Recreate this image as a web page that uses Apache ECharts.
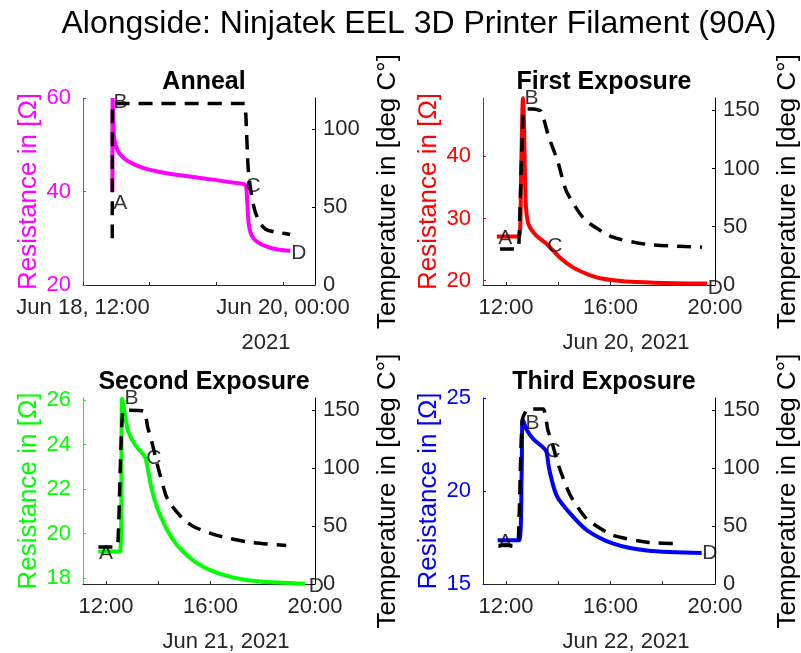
<!DOCTYPE html>
<html>
<head>
<meta charset="utf-8">
<script src="https://cdn.jsdelivr.net/npm/echarts@6.0.0/dist/echarts.min.js"></script>
<style>
  html, body { margin: 0; padding: 0; background: #fff; }
  #chart { width: 801px; height: 653px; }
</style>
</head>
<body>
<div id="chart"></div>
<script>
// x values are hours after midnight of the day (anneal: hours after Jun 18 00:00)

// Anneal
const annealResHours = [17.3, 17.33, 17.45, 17.6, 18.0, 18.7, 20.2, 22.9, 27.1, 33.1, 39.1, 41.2, 41.5, 41.7, 41.9, 42.4, 43.3, 45.1, 47.0, 49.3];
const annealRes = [40, 60, 55, 51.5, 49.5, 47.9, 46.4, 45, 43.9, 42.9, 41.9, 41.4, 39, 35, 32.5, 30.5, 29.3, 28.2, 27.6, 27.35];
const annealTempHours = [17.27, 17.3, 41.1, 41.3, 41.75, 42.4, 43.0, 43.8, 44.8, 46.5, 48.4, 49.3];
const annealTemp = [30, 116.5, 116.5, 110, 74, 56, 47, 40, 36, 34, 33, 32.5];
const annealMarkHours = [17.35, 17.4, 41.16, 49.39];
const annealMarkRes = [37.6, 59, 41.2, 26.9];

// First exposure (Jun 20)
const firstResHours = [11.65, 12.5, 12.58, 12.65, 12.69, 12.73, 12.77, 12.87, 13.17, 13.56, 14.07, 14.58, 15.2, 15.6, 16.2, 17.0, 18.5, 19.7];
const firstRes = [27.1, 27.1, 38, 49.3, 45, 36, 31.5, 29, 27.2, 25.9, 23.7, 22.1, 20.9, 20.4, 20.05, 19.8, 19.6, 19.55];
const firstTempHours = [11.77, 12.45, 12.5, 12.66, 12.75, 13.05, 13.35, 13.62, 13.97, 14.32, 15.02, 16.09, 17.36, 18.88, 19.5];
const firstTemp = [31, 31, 40, 149, 151, 151, 149, 128, 107, 80, 56, 41, 35, 33, 32.5];
const firstMarkHours = [11.68, 12.69, 13.56, 19.7];
const firstMarkRes = [26.8, 49.3, 25.5, 18.8];

// Second exposure (Jun 21)
const secondResHours = [11.71, 12.54, 12.62, 12.73, 12.85, 13.11, 13.49, 13.6, 13.75, 13.95, 14.2, 14.5, 14.9, 15.4, 16.0, 16.8, 17.8, 19.62];
const secondRes = [19.2, 19.2, 26.07, 25.3, 24.6, 24.0, 23.45, 22.9, 22.0, 21.2, 20.5, 19.85, 19.25, 18.75, 18.35, 18.05, 17.86, 17.75];
const secondTempHours = [11.71, 12.4, 12.47, 12.66, 12.9, 13.45, 13.6, 13.75, 14.0, 14.3, 14.5, 15.0, 15.4, 16.24, 17.5, 18.9];
const secondTemp = [32, 32, 42, 150, 150, 149, 135, 123, 100, 76, 68, 55, 49, 42, 36, 33.3];
const secondMarkHours = [11.71, 12.69, 13.52, 19.74];
const secondMarkRes = [19.12, 26.07, 23.38, 17.62];

// Third exposure (Jun 22)
const thirdResHours = [11.68, 12.5, 12.6, 12.64, 12.79, 13.04, 13.43, 13.55, 13.65, 13.94, 14.45, 15.09, 16.11, 17.39, 19.49];
const thirdRes = [17.35, 17.35, 21, 23.85, 23.3, 22.8, 22.33, 22.1, 21.2, 19.75, 18.8, 17.9, 17.17, 16.8, 16.67];
const thirdTempHours = [11.71, 12.34, 12.47, 12.62, 12.85, 13.42, 13.6, 13.75, 14.0, 14.45, 15.1, 16.1, 17.4, 18.65];
const thirdTemp = [33.3, 33.3, 37.5, 141, 151, 151, 133, 123, 103, 77, 56, 42, 36.1, 34.7];
const thirdMarkHours = [11.68, 12.73, 13.49, 19.49];
const thirdMarkRes = [17.26, 23.67, 22.15, 16.64];

const markNames = ['A', 'B', 'C', 'D'];

// tick values and labels
const annealTicks = [12, 24, 36, 48];
const annealLabelTicks = [12, 48];
const annealTickLabels = ['Jun 18, 12:00', 'Jun 20, 00:00'];
const exposureTicks = [12, 14, 16, 18, 20];
const exposureLabelTicks = [12, 16, 20];
const exposureTickLabels = ['12:00', '16:00', '20:00'];

const annealResTicks = [20, 40, 60];
const firstResTicks = [20, 30, 40];
const secondResTicks = [18, 20, 22, 24, 26];
const thirdResTicks = [15, 20, 25];
const annealTempTicks = [0, 50, 100];
const exposureTempTicks = [0, 50, 100, 150];

const subTitles = ['Anneal', 'First Exposure', 'Second Exposure', 'Third Exposure'];
const dateNames = ['2021', 'Jun 20, 2021', 'Jun 21, 2021', 'Jun 22, 2021'];

const FONT = '"Liberation Sans", Arial, Helvetica, sans-serif';
const AXIS_TEXT = '#262626';

const zip = (xs, ys) => xs.map((x, i) => [x, ys[i]]);

const panels = [
  {
    grid: { left: 83, top: 98, width: 232, height: 187 },
    color: '#ff00ff',
    xMin: 12, xMax: 53.76,
    ticks: annealTicks, labelTicks: annealLabelTicks, tickLabels: annealTickLabels,
    resMin: 20, resMax: 60, resTicks: annealResTicks,
    tempMax: 120, tempTicks: annealTempTicks,
    res: zip(annealResHours, annealRes),
    temp: zip(annealTempHours, annealTemp),
    marks: annealMarkHours.map((h, i) => [h, annealMarkRes[i], markNames[i]]),
    dateShift: 134
  },
  {
    grid: { left: 483, top: 98, width: 232, height: 187 },
    color: '#ff0000',
    xMin: 11.12, xMax: 20,
    ticks: exposureTicks, labelTicks: exposureLabelTicks, tickLabels: exposureTickLabels,
    resMin: 19.31, resMax: 49.36, resTicks: firstResTicks,
    tempMax: 160.5, tempTicks: exposureTempTicks,
    res: zip(firstResHours, firstRes),
    temp: zip(firstTempHours, firstTemp),
    marks: firstMarkHours.map((h, i) => [h, firstMarkRes[i], markNames[i]]),
    dateShift: 54
  },
  {
    grid: { left: 83, top: 398, width: 232, height: 186 },
    color: '#00ff00',
    xMin: 11.12, xMax: 20,
    ticks: exposureTicks, labelTicks: exposureLabelTicks, tickLabels: exposureTickLabels,
    resMin: 17.74, resMax: 26.1, resTicks: secondResTicks,
    tempMax: 160.5, tempTicks: exposureTempTicks,
    res: zip(secondResHours, secondRes),
    temp: zip(secondTempHours, secondTemp),
    marks: secondMarkHours.map((h, i) => [h, secondMarkRes[i], markNames[i]]),
    dateShift: 54
  },
  {
    grid: { left: 483, top: 398, width: 232, height: 186 },
    color: '#0000ff',
    xMin: 11.12, xMax: 20,
    ticks: exposureTicks, labelTicks: exposureLabelTicks, tickLabels: exposureTickLabels,
    resMin: 15, resMax: 25, resTicks: thirdResTicks,
    tempMax: 160.5, tempTicks: exposureTempTicks,
    res: zip(thirdResHours, thirdRes),
    temp: zip(thirdTempHours, thirdTemp),
    marks: thirdMarkHours.map((h, i) => [h, thirdMarkRes[i], markNames[i]]),
    dateShift: 54
  }
];

const grids = [];
const xAxes = [];
const yAxes = [];
const series = [];
const titles = [{
  text: 'Alongside: Ninjatek EEL 3D Printer Filament (90A)',
  left: 414, top: 3, textAlign: 'center',
  textStyle: { fontFamily: FONT, fontSize: 32, fontWeight: 'normal', color: '#000' }
}];

panels.forEach((p, i) => {
  // keep the plot boxes where they are, even if labels run past the edge
  grids.push(Object.assign({ outerBoundsMode: 'none', containLabel: false }, p.grid));

  titles.push({
    text: subTitles[i],
    left: p.grid.left + p.grid.width / 2, top: p.grid.top - 33, textAlign: 'center',
    textStyle: { fontFamily: FONT, fontSize: 25, fontWeight: 'bold', color: '#000' }
  });

  xAxes.push({
    type: 'value',
    gridIndex: i,
    min: p.xMin,
    max: p.xMax,
    name: dateNames[i],
    nameLocation: 'middle',
    nameGap: 47,
    nameTextStyle: { fontFamily: FONT, fontSize: 22, color: AXIS_TEXT, padding: [0, 0, 0, p.dateShift] },
    axisLine: { show: true, lineStyle: { color: AXIS_TEXT, width: 1 } },
    axisTick: { show: true, inside: true, length: 3, customValues: p.ticks, lineStyle: { color: AXIS_TEXT } },
    axisLabel: {
      customValues: p.labelTicks,
      margin: 12,
      fontFamily: FONT, fontSize: 22, color: AXIS_TEXT,
      formatter: v => p.tickLabels[p.labelTicks.indexOf(v)] || ''
    },
    splitLine: { show: false }
  });

  // left: resistance
  yAxes.push({
    type: 'value',
    gridIndex: i,
    position: 'left',
    min: p.resMin,
    max: p.resMax,
    name: 'Resistance in [Ω]',
    nameLocation: 'middle',
    nameGap: 41,
    nameTextStyle: { fontFamily: FONT, fontSize: 26, color: p.color },
    axisLine: { show: true, lineStyle: { color: p.color, width: 1 } },
    axisTick: { show: true, inside: true, length: 3, customValues: p.resTicks, lineStyle: { color: p.color } },
    axisLabel: { customValues: p.resTicks, margin: 12, fontFamily: FONT, fontSize: 22, color: p.color },
    splitLine: { show: false }
  });

  // right: temperature
  yAxes.push({
    type: 'value',
    gridIndex: i,
    position: 'right',
    min: 0,
    max: p.tempMax,
    name: 'Temperature in [deg C°]',
    nameLocation: 'middle',
    nameGap: 60,
    nameTextStyle: { fontFamily: FONT, fontSize: 26, color: '#000' },
    axisLine: { show: true, lineStyle: { color: '#000', width: 1 } },
    axisTick: { show: true, inside: true, length: 3, customValues: p.tempTicks, lineStyle: { color: '#000' } },
    axisLabel: { customValues: p.tempTicks, margin: 8, fontFamily: FONT, fontSize: 22, color: AXIS_TEXT },
    splitLine: { show: false }
  });

  series.push({
    type: 'line',
    xAxisIndex: i,
    yAxisIndex: 2 * i,
    data: p.res,
    showSymbol: false,
    smooth: 0.3,
    lineStyle: { color: p.color, width: 4 },
    z: 2
  });

  series.push({
    type: 'line',
    xAxisIndex: i,
    yAxisIndex: 2 * i + 1,
    data: p.temp,
    showSymbol: false,
    smooth: 0.2,
    lineStyle: { color: '#000', width: 3.5, type: [14, 9] },
    z: 3
  });

  series.push({
    type: 'scatter',
    xAxisIndex: i,
    yAxisIndex: 2 * i,
    data: p.marks,
    symbolSize: 1,
    clip: false,
    silent: true,
    itemStyle: { color: 'rgba(0,0,0,0)' },
    label: {
      show: true,
      position: 'right',
      distance: 0,
      formatter: d => d.value[2],
      fontFamily: FONT, fontSize: 21, color: '#000'
    },
    z: 4
  });
});

const chart = echarts.init(document.getElementById('chart'));
chart.setOption({
  animation: false,
  backgroundColor: '#fff',
  title: titles,
  grid: grids,
  xAxis: xAxes,
  yAxis: yAxes,
  series: series
});
</script>
</body>
</html>
